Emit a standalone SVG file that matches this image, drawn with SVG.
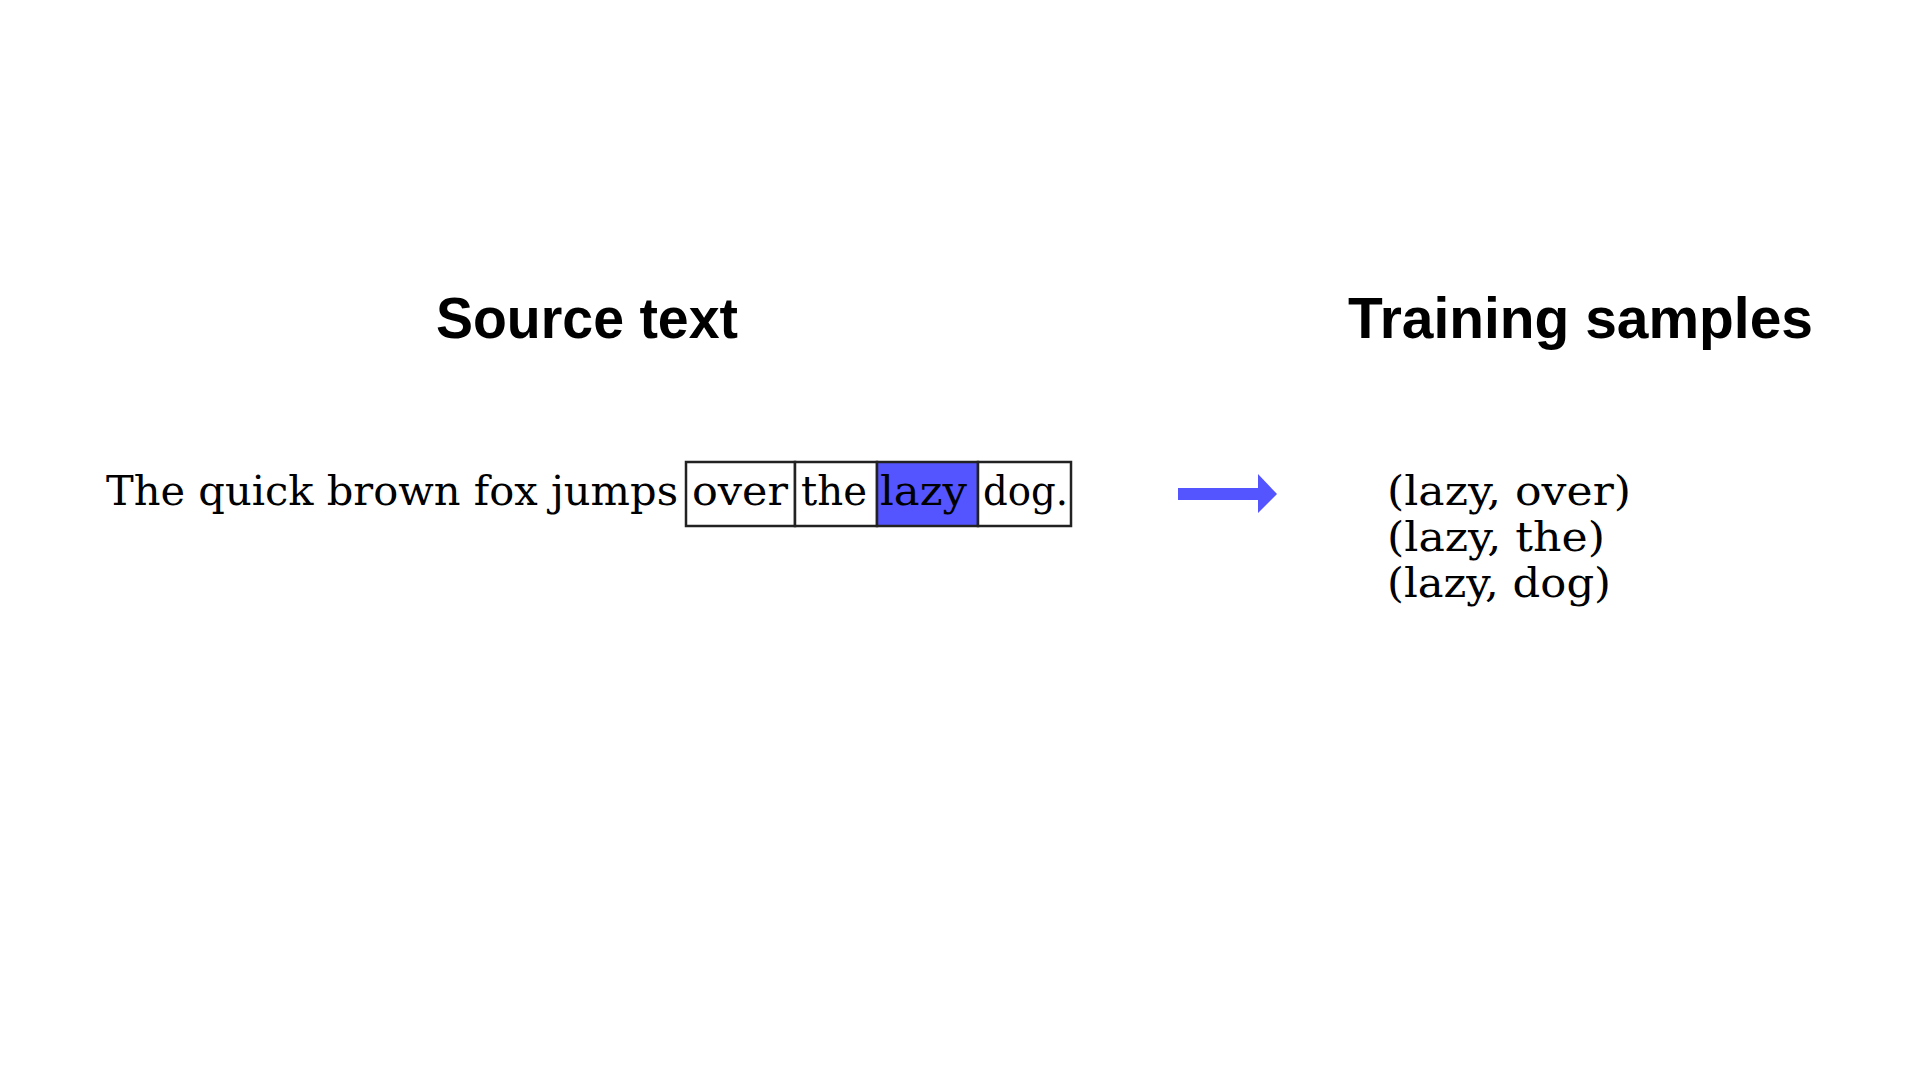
<svg xmlns="http://www.w3.org/2000/svg" width="1920" height="1080" viewBox="0 0 1920 1080">
<style>
.title{font-family:"Liberation Sans",Arial,sans-serif;font-weight:bold;font-size:58px;fill:#000}
.tw{font-family:"DejaVu Serif","Liberation Serif",serif;font-size:41px;fill:#000}
.box{fill:#fff;stroke:#222;stroke-width:2.5}
.hl{fill:#5555FF;stroke:#222;stroke-width:2.5}
</style>
<rect width="1920" height="1080" fill="#fff"/>
<g id="title-source"><text class="title" x="436" y="338" textLength="302" lengthAdjust="spacingAndGlyphs">Source text</text></g>
<g id="title-training"><text class="title" x="1348" y="338" textLength="465" lengthAdjust="spacingAndGlyphs">Training samples</text></g>
<g id="sentence"><text class="tw" x="106" y="505" textLength="572" lengthAdjust="spacingAndGlyphs">The quick brown fox jumps</text></g>
<g id="word-over"><rect class="box" x="686" y="462" width="109" height="64"/><text class="tw" x="692" y="505" textLength="96" lengthAdjust="spacingAndGlyphs">over</text></g>
<g id="word-the"><rect class="box" x="795" y="462" width="82" height="64"/><text class="tw" x="801" y="505" textLength="66" lengthAdjust="spacingAndGlyphs">the</text></g>
<g id="word-lazy"><rect class="hl" x="877" y="462" width="101" height="64"/><text class="tw" x="880" y="505" textLength="87" lengthAdjust="spacingAndGlyphs">lazy</text></g>
<g id="word-dog"><rect class="box" x="978" y="462" width="93" height="64"/><text class="tw" x="983" y="505" textLength="85" lengthAdjust="spacingAndGlyphs">dog.</text></g>
<g id="connectors"><path d="M1178 488 H1258 V474 L1277 494 L1258 513 V500 H1178 Z" fill="#5555FF"/></g>
<g id="samples">
<text class="tw" x="1387" y="505" textLength="244" lengthAdjust="spacingAndGlyphs">(lazy, over)</text>
<text class="tw" x="1387" y="551" textLength="218" lengthAdjust="spacingAndGlyphs">(lazy, the)</text>
<text class="tw" x="1387" y="597" textLength="224" lengthAdjust="spacingAndGlyphs">(lazy, dog)</text>
</g>
</svg>
